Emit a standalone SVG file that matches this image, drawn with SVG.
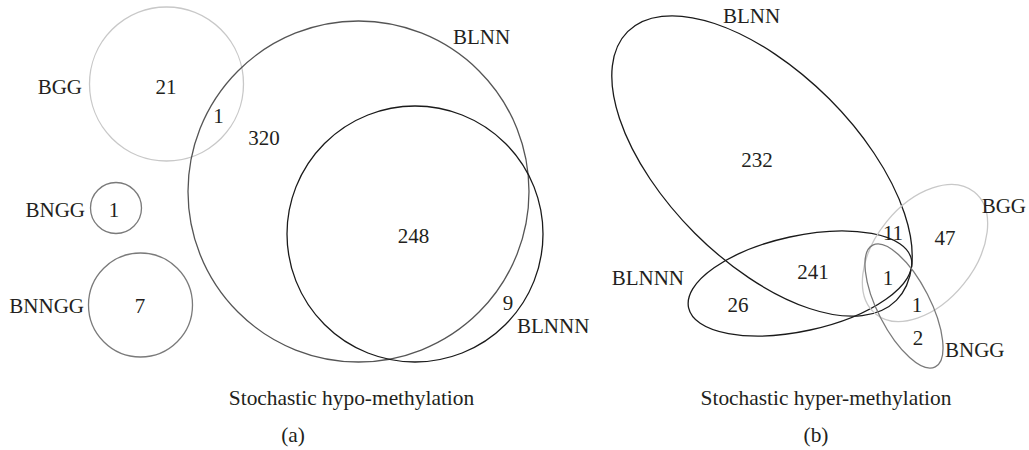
<svg xmlns="http://www.w3.org/2000/svg" width="1029" height="450" viewBox="0 0 1029 450">
  <style>
    text { font-family: "Liberation Serif", "Times New Roman", serif; font-size: 21px; fill: #231f20; }
    .mid { text-anchor: middle; }
    .end { text-anchor: end; }
    .set { fill: none; stroke-width: 1.3; }
    .black { stroke: #1a1a1a; }
    .dark { stroke: #555555; }
    .mid-gray { stroke: #7a7a7a; }
    .light { stroke: #c8c8c8; }
    .caption { font-size: 21.4px; }
  </style>
  <rect width="1029" height="450" fill="#ffffff"/>

  <!-- Panel (a): hypo-methylation -->
  <g id="panel-a">
    <g id="a-BGG">
      <circle class="set light" cx="166.5" cy="84" r="77"/>
      <text class="end" x="82" y="94">BGG</text>
    </g>
    <g id="a-BNGG">
      <circle class="set mid-gray" cx="116" cy="208" r="25.5"/>
      <text class="end" x="85" y="217">BNGG</text>
    </g>
    <g id="a-BNNGG">
      <circle class="set mid-gray" cx="140.5" cy="305" r="52"/>
      <text class="end" x="84" y="313">BNNGG</text>
    </g>
    <g id="a-BLNN">
      <circle class="set dark" cx="358.5" cy="191.5" r="170.5"/>
      <text x="453" y="44">BLNN</text>
    </g>
    <g id="a-BLNNN">
      <circle class="set black" cx="415" cy="234" r="128"/>
      <text x="517" y="333">BLNNN</text>
    </g>
    <g id="a-counts">
      <text class="mid" x="166" y="94">21</text>
      <text class="mid" x="218.5" y="123">1</text>
      <text class="mid" x="264" y="145">320</text>
      <text class="mid" x="114" y="217">1</text>
      <text class="mid" x="140" y="313">7</text>
      <text class="mid" x="413.5" y="243">248</text>
      <text class="mid" x="508" y="310">9</text>
    </g>
    <text class="mid caption" x="351.5" y="405">Stochastic hypo-methylation</text>
    <text class="mid caption" x="293" y="442">(a)</text>
  </g>

  <!-- Panel (b): hyper-methylation -->
  <g id="panel-b">
    <g id="b-BLNN">
      <ellipse class="set black" cx="762" cy="166" rx="190" ry="95" transform="rotate(45 762 166)"/>
      <text x="723" y="23">BLNN</text>
    </g>
    <g id="b-BLNNN">
      <ellipse class="set black" cx="800" cy="283.5" rx="114" ry="47.6" transform="rotate(-12.3 800 283.5)"/>
      <text class="end" x="684" y="285">BLNNN</text>
    </g>
    <g id="b-BGG">
      <ellipse class="set light" cx="925" cy="253" rx="78.4" ry="49.6" transform="rotate(-51 925 253)"/>
      <text class="end" x="1026" y="213">BGG</text>
    </g>
    <g id="b-BNGG">
      <ellipse class="set mid-gray" cx="904" cy="306" rx="68.4" ry="26.2" transform="rotate(62.8 904 306)"/>
      <text x="945" y="357">BNGG</text>
    </g>
    <g id="b-counts">
      <text class="mid" x="757" y="167">232</text>
      <text class="mid" x="813" y="279">241</text>
      <text class="mid" x="738" y="312">26</text>
      <text class="mid" x="893" y="240">11</text>
      <text class="mid" x="945" y="245">47</text>
      <text class="mid" x="888" y="285">1</text>
      <text class="mid" x="917" y="312">1</text>
      <text class="mid" x="918" y="345">2</text>
    </g>
    <text class="mid caption" x="826" y="405">Stochastic hyper-methylation</text>
    <text class="mid caption" x="816" y="442">(b)</text>
  </g>
</svg>
